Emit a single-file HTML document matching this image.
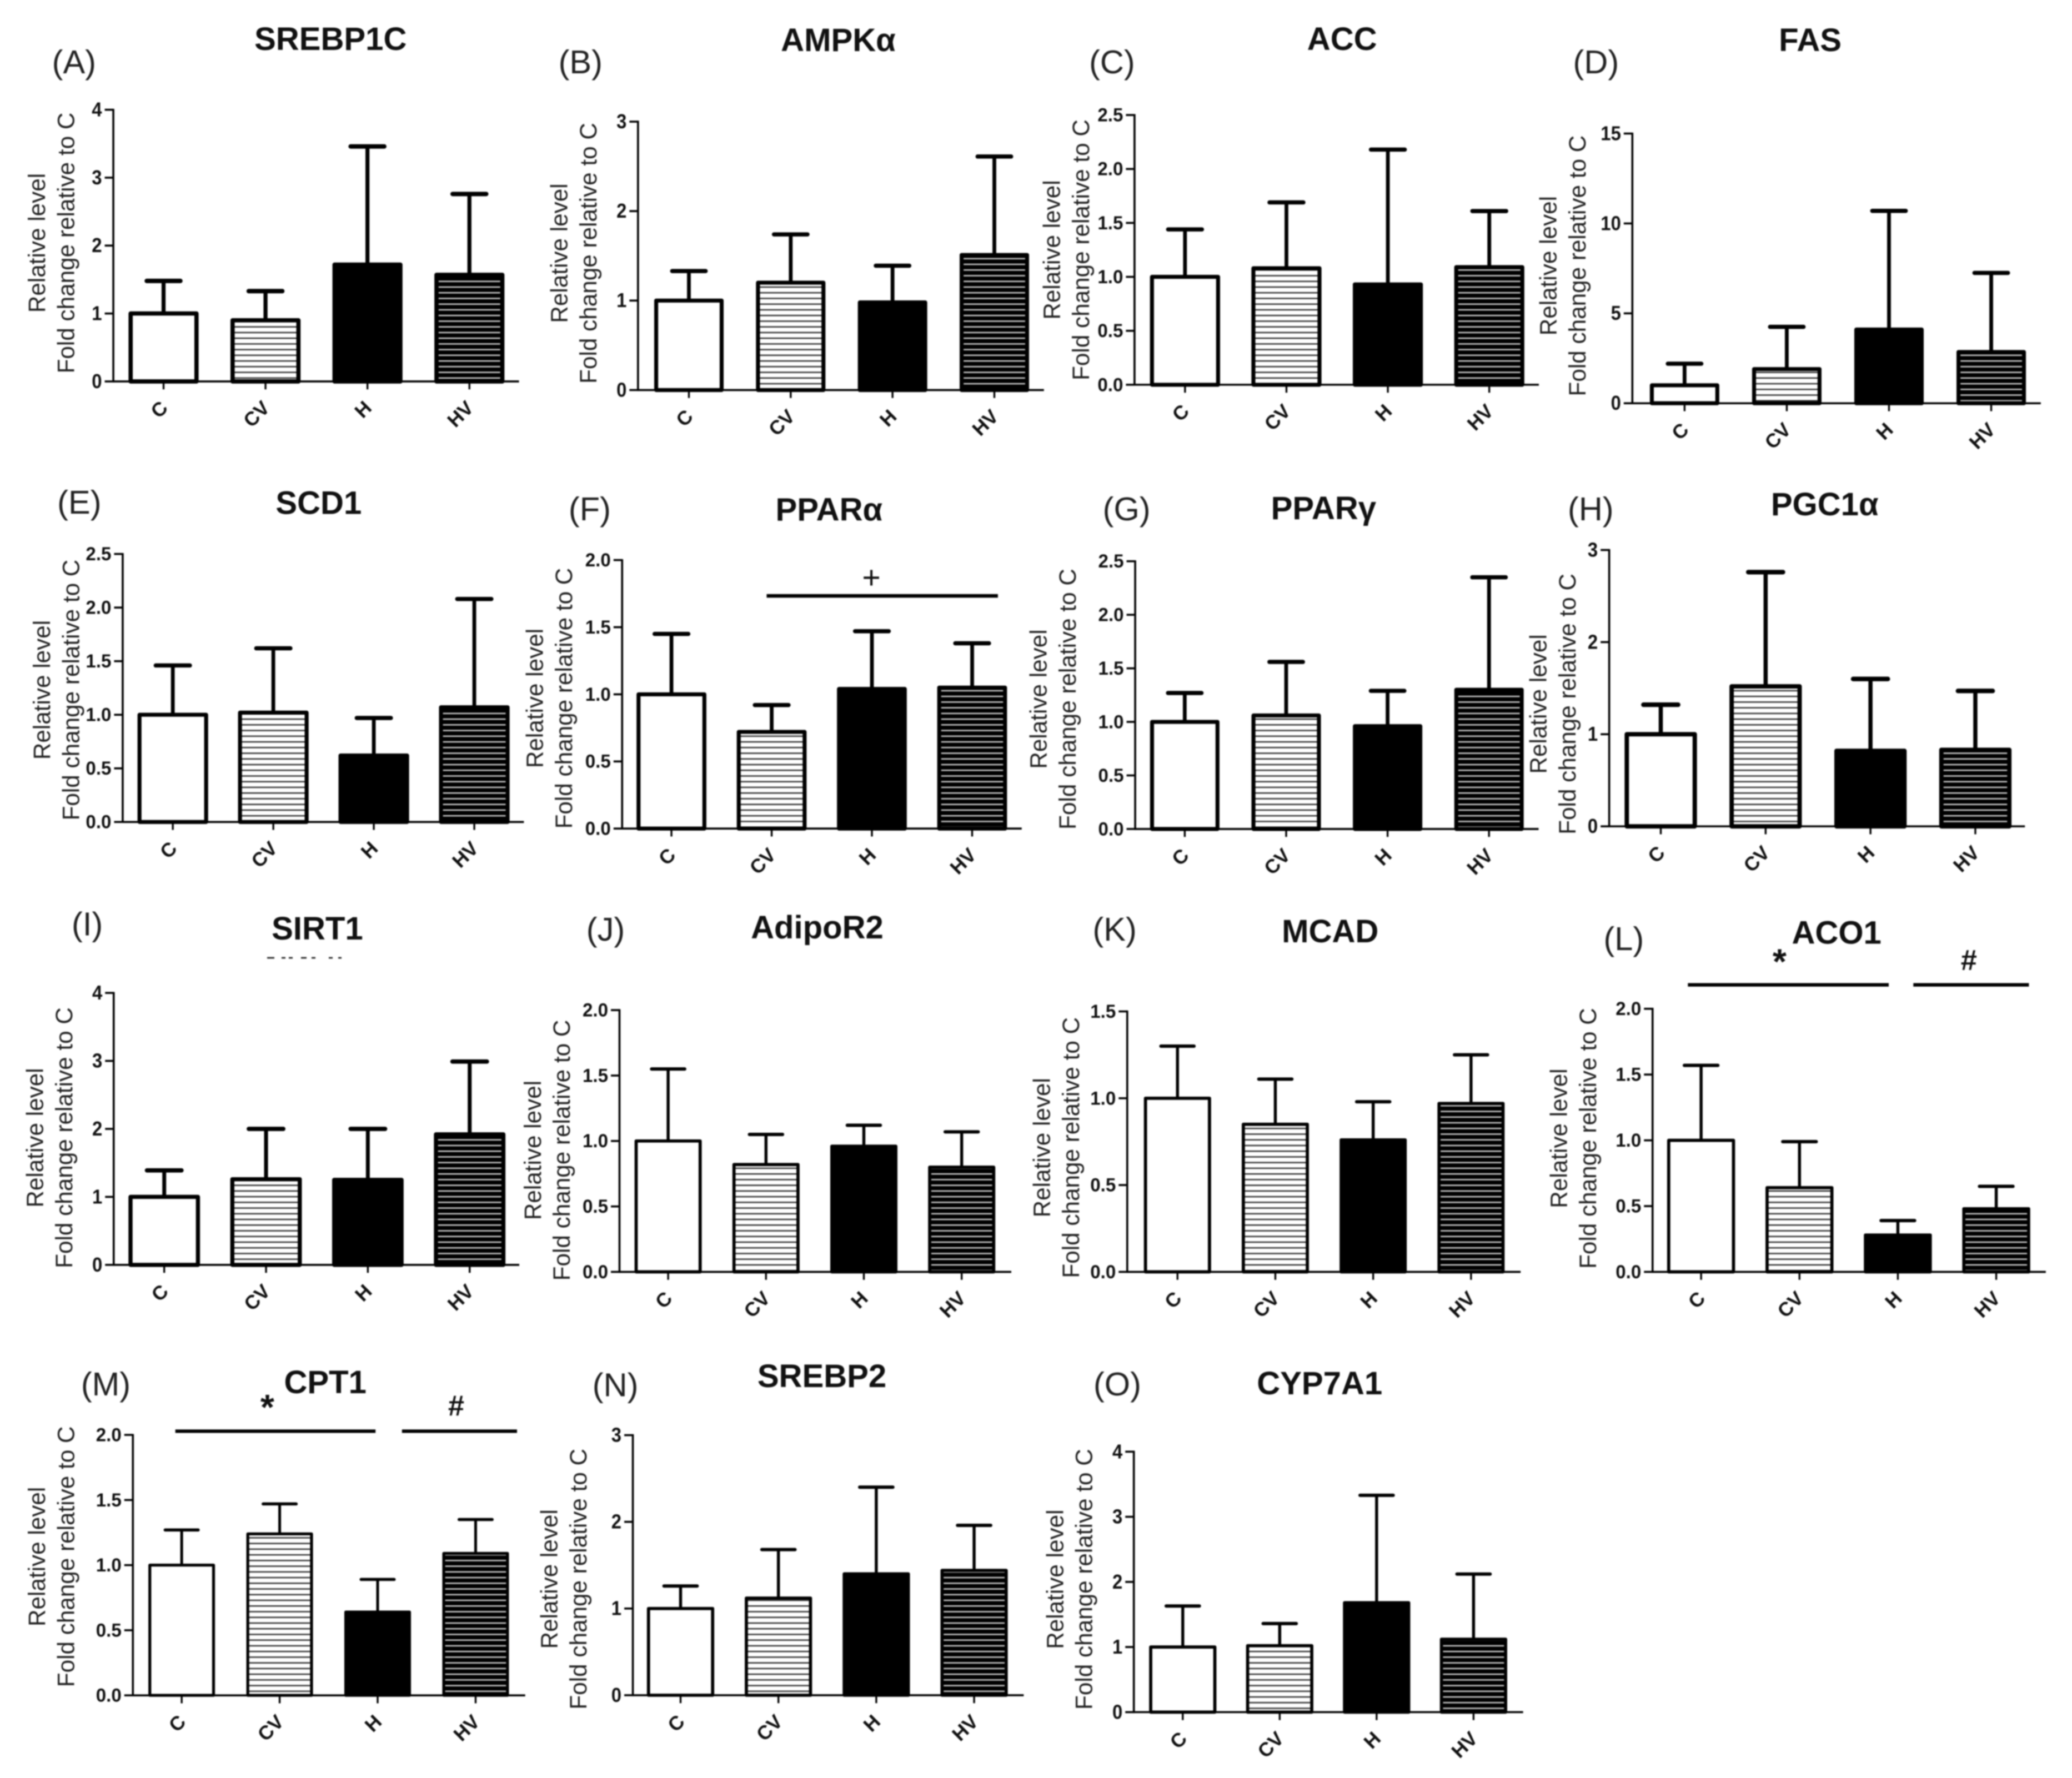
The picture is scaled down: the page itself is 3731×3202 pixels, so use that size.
<!DOCTYPE html>
<html lang="en">
<head>
<meta charset="utf-8">
<title>Relative expression bar charts</title>
<style>
html,body{margin:0;padding:0;background:#fff;}
svg{display:block;filter:blur(1px);}
text{font-family:"Liberation Sans",Arial,sans-serif;fill:#111;}
.title{font-weight:700;font-size:24.4px;text-anchor:middle;}
.plabel{font-size:25px;text-anchor:middle;fill:#222;}
.ytitle{font-size:17.75px;text-anchor:middle;fill:#222;}
.ytick{font-weight:700;text-anchor:end;}
.xtick{font-weight:700;font-size:14.8px;text-anchor:end;}
.sig{font-size:22px;font-weight:700;text-anchor:middle;}
.plus{font-size:24px;font-weight:400;}
.star{font-size:27px;}
</style>
</head>
<body>
<svg id="fig" xmlns="http://www.w3.org/2000/svg" width="3731" height="3202" viewBox="0 0 1567 1344.8">
  <defs>
    <pattern id="hatch-light" patternUnits="userSpaceOnUse" width="8" height="4.3">
      <rect width="8" height="4.3" fill="#fff"/>
      <rect y="1.6" width="8" height="1.05" fill="#333"/>
    </pattern>
    <pattern id="hatch-dark" patternUnits="userSpaceOnUse" width="8" height="4.3">
      <rect width="8" height="4.3" fill="#000"/>
      <rect y="1.6" width="8" height="1.05" fill="#ccc"/>
    </pattern>
  </defs>
  <rect width="1567" height="1344.8" fill="#fff"/>
</svg>
<script>
const categories = ['C', 'CV', 'H', 'HV'];
const panelLetters = ['(A)','(B)','(C)','(D)','(E)','(F)','(G)','(H)','(I)','(J)','(K)','(L)','(M)','(N)','(O)'];
const geneNames = ['SREBP1C','AMPKα','ACC','FAS','SCD1','PPARα','PPARγ','PGC1α','SIRT1','AdipoR2','MCAD','ACO1','CPT1','SREBP2','CYP7A1'];

const tickA = ['0','1','2','3','4'];
const tickB = ['0','1','2','3'];
const tickC = ['0.0','0.5','1.0','1.5','2.0','2.5'];
const tickD = ['0','5','10','15'];
const tickF = ['0.0','0.5','1.0','1.5','2.0'];
const tickK = ['0.0','0.5','1.0','1.5'];
const tickLabels = [tickA,tickB,tickC,tickD,tickC,tickF,tickC,tickB,tickA,tickF,tickK,tickF,tickF,tickB,tickA];

const meansA = [1, 0.9, 1.72, 1.57];
const upperA = [1.48, 1.33, 3.46, 2.76];
const meansB = [1, 1.2, 0.98, 1.51];
const upperB = [1.33, 1.74, 1.39, 2.61];
const meansC = [1, 1.08, 0.93, 1.09];
const upperC = [1.44, 1.69, 2.18, 1.61];
const meansD = [1, 1.9, 4.1, 2.85];
const upperD = [2.2, 4.25, 10.7, 7.25];
const meansE = [1, 1.02, 0.62, 1.07];
const upperE = [1.46, 1.62, 0.97, 2.08];
const meansF = [1, 0.72, 1.04, 1.05];
const upperF = [1.45, 0.92, 1.47, 1.38];
const meansG = [1, 1.06, 0.96, 1.3];
const upperG = [1.27, 1.56, 1.29, 2.35];
const meansH = [1, 1.52, 0.82, 0.83];
const upperH = [1.32, 2.76, 1.6, 1.47];
const meansI = [1, 1.26, 1.25, 1.92];
const upperI = [1.39, 2, 2, 2.99];
const meansJ = [1, 0.82, 0.96, 0.8];
const upperJ = [1.55, 1.05, 1.12, 1.07];
const meansK = [1, 0.85, 0.76, 0.97];
const upperK = [1.3, 1.11, 0.98, 1.25];
const meansL = [1, 0.64, 0.28, 0.48];
const upperL = [1.57, 0.99, 0.39, 0.65];
const meansM = [1, 1.24, 0.64, 1.09];
const upperM = [1.27, 1.47, 0.89, 1.35];
const meansN = [1, 1.12, 1.4, 1.44];
const upperN = [1.26, 1.68, 2.4, 1.96];
const meansO = [1, 1.02, 1.68, 1.12];
const upperO = [1.63, 1.36, 3.33, 2.12];
const means = [meansA,meansB,meansC,meansD,meansE,meansF,meansG,meansH,meansI,meansJ,meansK,meansL,meansM,meansN,meansO];
const upper = [upperA,upperB,upperC,upperD,upperE,upperF,upperG,upperH,upperI,upperJ,upperK,upperL,upperM,upperN,upperO];

/* panel frame geometry (not data): axis x, baseline y, top y, first bar centre, bar spacing,
   title centre x/y, letter x/y, y-title x, y-title vertical nudge, bar width, bar outline width */
const frames = [
 {ax:85.7, y0:288.5,top:83,   c0:123.7, st:77.1, tx:250,  ty:29,  lx:56,   ly:47,  yt:28,    dy:0,    w:49.8, sw:3.2},
 {ax:482.5,y0:295,  top:92,   c0:521,   st:77,   tx:634,  ty:30,  lx:439,  ly:47,  yt:423,   dy:0,    w:49.5, sw:3},
 {ax:858,  y0:291,  top:87,   c0:896.2, st:76.7, tx:1015, ty:29,  lx:841,  ly:47,  yt:795.6, dy:2,    w:50,   sw:3},
 {ax:1234.5,y0:305, top:101,  c0:1274,  st:77.3, tx:1369, ty:30,  lx:1207, ly:47,  yt:1171,  dy:0,    w:49.5, sw:3},
 {ax:92.8, y0:621.7,top:419,  c0:130.7, st:76,   tx:241,  ty:380, lx:60,   ly:380, yt:31.8,  dy:3.5,  w:50.4, sw:3},
 {ax:470.5,y0:626.7,top:423.6,c0:507.8, st:75.8, tx:627,  ty:385, lx:446,  ly:385, yt:404.5, dy:5,    w:49.8, sw:3},
 {ax:858.5,y0:627,  top:424.5,c0:896,   st:76.7, tx:1001, ty:384, lx:852,  ly:385, yt:785.5, dy:5,    w:49.5, sw:3},
 {ax:1217, y0:625,  top:416,  c0:1256,  st:79.3, tx:1380, ty:381, lx:1203, ly:385, yt:1163.5,dy:14,   w:51.4, sw:3.3},
 {ax:86,   y0:956.7,top:751,  c0:124.2, st:77,   tx:240,  ty:702, lx:66,   ly:699, yt:26.5,  dy:8.7,  w:51,   sw:3.1},
 {ax:468.5,y0:962,  top:764,  c0:505.3, st:74,   tx:618,  ty:701, lx:458,  ly:703, yt:403,   dy:9,    w:48.4, sw:2.4},
 {ax:852.5,y0:962,  top:765,  c0:890.5, st:74,   tx:1006, ty:704, lx:843,  ly:703, yt:788,   dy:6.5,  w:48.4, sw:2.4},
 {ax:1249.8,y0:962, top:763,  c0:1286.5,st:74.4, tx:1389, ty:705, lx:1228, ly:710, yt:1179,  dy:0.5,  w:49,   sw:2.4},
 {ax:100.5,y0:1282.3,top:1085.3,c0:137.4,st:74.1,tx:246,  ty:1045,lx:80,   ly:1047,yt:28,    dy:-4.4, w:48.2, sw:2.2},
 {ax:478.6,y0:1282.2,top:1085.5,c0:514.7,st:74,  tx:621.6,ty:1040.5,lx:465.4,ly:1047.5,yt:415.5,dy:12.5,w:48.5,sw:2.4},
 {ax:857.5,y0:1295, top:1098, c0:894.5, st:73.3, tx:998,  ty:1046,lx:845,  ly:1047,yt:798,   dy:0,    w:48.5, sw:2.4}
];

const fig = document.getElementById('fig');

function mk(tag, attrs, parent, txt) {
  const n = document.createElementNS('http://www.w3.org/2000/svg', tag);
  for (const k in attrs) n.setAttribute(k, attrs[k]);
  if (txt !== undefined) n.textContent = txt;
  parent.appendChild(n);
  return n;
}

const barFills = ['#fff', 'url(#hatch-light)', '#000', 'url(#hatch-dark)'];

frames.forEach(function (f, p) {
  const ticks = tickLabels[p];
  const yMax = parseFloat(ticks[ticks.length - 1]);
  const yScale = function (v) { return f.y0 - v / yMax * (f.y0 - f.top); };
  const xScale = function (i) { return f.c0 + i * f.st; };
  const capLen = (f.w + f.sw) * 0.54 - f.sw;
  const g = mk('g', {}, fig);
  
  

  let el = mk('text', {class:'title', x:f.tx, y:f.ty + 8.7}, g, geneNames[p]);
  
  

  el = mk('text', {class:'plabel', x:f.lx, y:f.ly + 8.5}, g, panelLetters[p]);
  
  

  const mid = (f.y0 + f.top) / 2 - 2 + f.dy;
  el = mk('text', {class:'ytitle', transform:'translate(' + (f.yt + 6) + ',' + mid + ') rotate(-90)'}, g, 'Relative level');
  
  

  el = mk('text', {class:'ytitle', transform:'translate(' + (f.yt + 28) + ',' + mid + ') rotate(-90)'}, g, 'Fold change relative to C');
  
  

  /* bars and error bars */
  categories.forEach(function (cat, i) {
    const cx = xScale(i);
    const yTop = yScale(means[p][i]);
    const yErr = yScale(upper[p][i]);

    let e = mk('line', {x1:cx, x2:cx, y1:yTop, y2:yErr, stroke:'#000', 'stroke-width':f.sw * 0.95}, g);
    
    

    e = mk('line', {x1:cx - capLen / 2, x2:cx + capLen / 2, y1:yErr, y2:yErr, stroke:'#000', 'stroke-width':f.sw * 1.05, 'stroke-linecap':'round'}, g);
    
    

    e = mk('rect', {x:cx - f.w / 2, y:yTop, width:f.w, height:f.y0 - yTop, fill:barFills[i], stroke:'#000', 'stroke-width':f.sw, 'stroke-linejoin':'round'}, g);
    
    

    e = mk('line', {x1:cx, x2:cx, y1:f.y0, y2:f.y0 + 6, stroke:'#000', 'stroke-width':1.4}, g);
    
    

    e = mk('text', {class:'xtick', transform:'translate(' + (cx + 4) + ',' + (f.y0 + 21) + ') rotate(-45)'}, g, cat);
    
    
  });

  /* axes */
  el = mk('line', {x1:f.ax, x2:f.ax, y1:f.top - 0.7, y2:f.y0 + 0.7, stroke:'#000', 'stroke-width':1.5}, g);
  
  

  el = mk('line', {x1:f.ax, x2:xScale(3) + 37.5, y1:f.y0, y2:f.y0, stroke:'#000', 'stroke-width':1.5}, g);
  
  

  ticks.forEach(function (t) {
    const ty = yScale(parseFloat(t));
    const isDecimal = t.indexOf('.') >= 0;
    let e = mk('line', {x1:f.ax - 6.5, x2:f.ax, y1:ty, y2:ty, stroke:'#000', 'stroke-width':1.5}, g);
    
    

    e = mk('text', {class:'ytick', 'font-size':isDecimal ? 14.2 : 15, transform:'translate(' + (f.ax - 8.6) + ',' + (ty + (isDecimal ? 4.8 : 5)) + ') scale(' + (isDecimal ? 0.98 : 0.92) + ',1)'}, g, t);
    
    
  });
});
</script>

<svg xmlns="http://www.w3.org/2000/svg" width="3731" height="3202" viewBox="0 0 1567 1344.8" style="position:absolute;left:0;top:0;pointer-events:none;">
  <line x1="579.8" x2="754.7" y1="450.7" y2="450.7" stroke="#000" stroke-width="2.7"/>
  <text class="sig plus" x="659" y="445">+</text>
  <line x1="1276.5" x2="1428.4" y1="744.9" y2="744.9" stroke="#000" stroke-width="2.6"/>
  <line x1="1447" x2="1534.4" y1="744.9" y2="744.9" stroke="#000" stroke-width="2.6"/>
  <text class="sig star" x="1345.8" y="736.4">*</text>
  <text class="sig" x="1489" y="733.5">#</text>
  <line x1="132.6" x2="284" y1="1082.5" y2="1082.5" stroke="#000" stroke-width="2.6"/>
  <line x1="304" x2="391" y1="1082.5" y2="1082.5" stroke="#000" stroke-width="2.6"/>
  <text class="sig star" x="202.2" y="1073.4">*</text>
  <text class="sig" x="345" y="1070.5">#</text>
  <path transform="scale(0.42)" d="M481 1725h13M507 1725h7M520 1725h7M542 1725h10M561 1725h7M592 1725h7M609 1725h6" stroke="#333" stroke-width="3" fill="none"/>
</svg>
</body>
</html>
